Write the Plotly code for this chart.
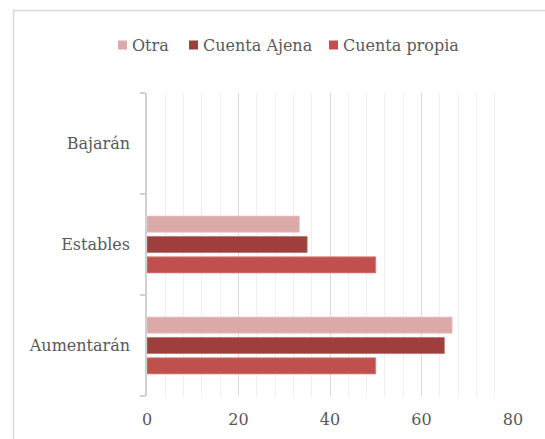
import plotly.graph_objects as go

categories = ["Aumentarán", "Estables", "Bajarán"]
series_names = ["Cuenta propia", "Cuenta Ajena", "Otra"]
cuenta_propia = [50, 50, None]
cuenta_ajena = [65, 35, None]
otra = [66.7, 33.3, None]
x_ticks = [0, 20, 40, 60, 80]
legend_order = ["Otra", "Cuenta Ajena", "Cuenta propia"]

colors = {"Cuenta propia": "#C0504D", "Cuenta Ajena": "#9E3F3E", "Otra": "#DBA9A8"}
edge = {"Cuenta propia": "#D58583", "Cuenta Ajena": "#B97372", "Otra": "#E8C6C6"}
values = {"Cuenta propia": cuenta_propia, "Cuenta Ajena": cuenta_ajena, "Otra": otra}

fig = go.Figure()
for name in series_names:
    fig.add_trace(go.Bar(
        y=categories, x=values[name], name=name, orientation="h",
        marker=dict(color=colors[name], line=dict(color=edge[name], width=0.8)),
        showlegend=False,
    ))

font_family = "DejaVu Serif"
gray = "#595959"
fs = 16

L, R, T, B = 147, 513, 93, 396
W, H = 545, 439

def px_x(p):
    return (p - L) / (R - L)

def px_y(p):
    return (B - p) / (B - T)

shapes = [dict(type="rect", xref="paper", yref="paper",
               x0=px_x(13.5), x1=px_x(560), y0=px_y(450), y1=px_y(10.5),
               line=dict(color="#D9D9D9", width=1.5), fillcolor="rgba(0,0,0,0)", layer="below")]
annotations = []

# custom legend (squares + text)
legend_sq_x = {"Otra": 118, "Cuenta Ajena": 189, "Cuenta propia": 329}
for name in legend_order:
    sx = legend_sq_x[name]
    shapes.append(dict(type="rect", xref="paper", yref="paper",
                       x0=px_x(sx), x1=px_x(sx + 9), y0=px_y(49.5), y1=px_y(40.5),
                       line=dict(width=0), fillcolor=colors[name]))
    annotations.append(dict(text=name, xref="paper", yref="paper", x=px_x(sx + 12), y=px_y(45),
                            xanchor="left", yanchor="middle", showarrow=False,
                            font=dict(family=font_family, size=fs, color=gray)))

fig.update_layout(
    width=W, height=H,
    margin=dict(l=L, r=W - R, t=T, b=H - B, pad=0),
    paper_bgcolor="white", plot_bgcolor="white",
    barmode="group", bargap=0.395, bargroupgap=0.21,
    font=dict(family=font_family, size=fs, color=gray),
    showlegend=False,
    xaxis=dict(range=[0, 80], tickvals=x_ticks, showgrid=True, gridcolor="#D9D9D9", gridwidth=1,
               minor=dict(dtick=4, showgrid=True, gridcolor="#EFEFEF", gridwidth=1),
               zeroline=False, showline=False, ticks="", tickfont=dict(size=fs, color=gray),
               ticklabelstandoff=12, automargin=False, fixedrange=True),
    yaxis=dict(categoryorder="array", categoryarray=categories, showline=True, linecolor="#D0D0D0",
               linewidth=1.5, ticks="outside", tickson="boundaries", ticklen=5, tickcolor="#D0D0D0",
               tickwidth=1.5, showgrid=False, zeroline=False, tickfont=dict(size=fs, color=gray),
               ticklabelstandoff=12, automargin=False, fixedrange=True),
    shapes=shapes,
    annotations=annotations,
)

fig.write_html("out.html", config={"displayModeBar": False},
               post_script="document.body.style.margin='0px';document.body.style.overflow='hidden';")
